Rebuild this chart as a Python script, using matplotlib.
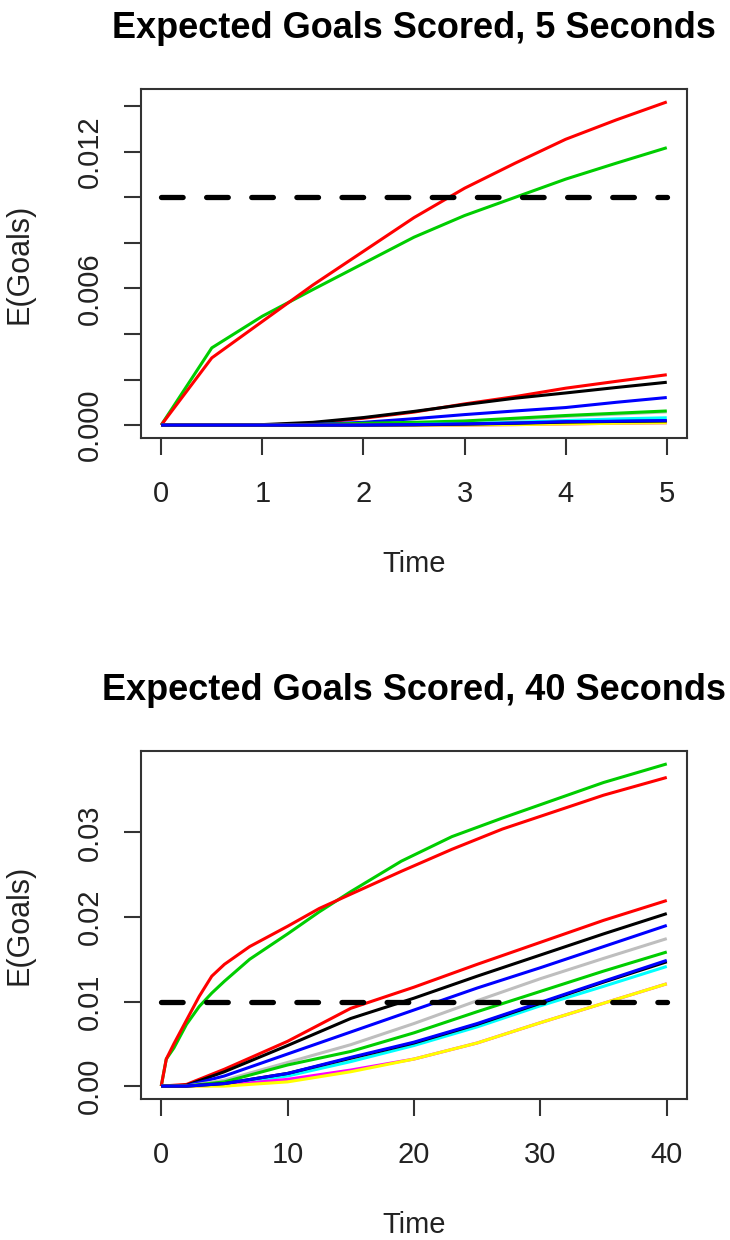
import matplotlib
matplotlib.use("Agg")
import matplotlib.pyplot as plt
import numpy as np

plt.rcParams['font.family'] = ['Liberation Sans', 'DejaVu Sans']

# ---------------- data: 5 second horizon (values x 1e-3 goals) ----------------
t5 = [0, 0.5, 1, 1.5, 2, 2.5, 3, 3.5, 4, 4.5, 5]
green_hi5 = [0, 3.39, 4.78, 5.95, 7.10, 8.25, 9.20, 10.00, 10.80, 11.50, 12.18]
red_hi5 = [0, 2.95, 4.55, 6.15, 7.63, 9.11, 10.40, 11.50, 12.55, 13.40, 14.19]
red_lo5 = [0, 0, 0, 0.08, 0.30, 0.57, 0.93, 1.25, 1.62, 1.92, 2.21]
black_lo5 = [0, 0, 0.02, 0.12, 0.33, 0.60, 0.90, 1.18, 1.41, 1.65, 1.88]
blue_lo5 = [0, 0, 0, 0.03, 0.12, 0.28, 0.46, 0.62, 0.77, 1.00, 1.21]
gray_lo5 = [0, 0, 0, 0, 0.03, 0.08, 0.15, 0.25, 0.38, 0.48, 0.58]
green_lo5 = [0, 0, 0, 0.02, 0.08, 0.12, 0.18, 0.30, 0.42, 0.52, 0.62]
cyan_lo5 = [0, 0, 0, 0, 0.01, 0.03, 0.06, 0.12, 0.20, 0.27, 0.32]
magenta_lo5 = [0, 0, 0, 0, 0, 0, 0, 0.02, 0.05, 0.08, 0.10]
yellow_lo5 = [0, 0, 0, 0, 0, 0, 0, 0.02, 0.05, 0.08, 0.10]
black2_lo5 = [0, 0, 0, 0, 0, 0.01, 0.04, 0.08, 0.13, 0.16, 0.18]
blue2_lo5 = [0, 0, 0, 0, 0, 0.02, 0.05, 0.09, 0.15, 0.17, 0.20]
scale5 = 1e-3

# ---------------- data: 40 second horizon (values x 1e-2 goals) ----------------
t40_hi = [0, 0.4, 1, 2, 3, 4, 5, 7, 10, 12.5, 15, 19, 23, 27, 31, 35, 40]
green_hi40 = [0, 0.32, 0.45, 0.73, 0.94, 1.10, 1.24, 1.50, 1.80, 2.06, 2.30,
              2.66, 2.95, 3.17, 3.38, 3.59, 3.81]
red_hi40 = [0, 0.32, 0.50, 0.78, 1.06, 1.30, 1.44, 1.65, 1.89, 2.10, 2.27,
            2.54, 2.80, 3.04, 3.24, 3.44, 3.65]
t40 = [0, 2, 5, 10, 15, 20, 25, 30, 35, 40]
red_lo40 = [0, 0.02, 0.20, 0.53, 0.92, 1.17, 1.44, 1.70, 1.96, 2.195]
black_lo40 = [0, 0.01, 0.17, 0.48, 0.80, 1.04, 1.30, 1.55, 1.80, 2.04]
blue_lo40 = [0, 0.005, 0.12, 0.38, 0.64, 0.90, 1.16, 1.40, 1.65, 1.90]
gray_lo40 = [0, 0, 0.07, 0.28, 0.49, 0.74, 1.01, 1.27, 1.51, 1.744]
green_lo40 = [0, 0, 0.05, 0.25, 0.41, 0.63, 0.88, 1.12, 1.36, 1.586]
cyan_lo40 = [0, 0, 0.02, 0.12, 0.29, 0.48, 0.70, 0.95, 1.18, 1.415]
magenta_lo40 = [0, 0, 0.01, 0.08, 0.19, 0.32, 0.51, 0.75, 0.98, 1.21]
yellow_lo40 = [0, 0, 0, 0.05, 0.17, 0.32, 0.51, 0.75, 0.98, 1.21]
black2_lo40 = [0, 0, 0.03, 0.15, 0.33, 0.51, 0.73, 0.98, 1.23, 1.47]
blue2_lo40 = [0, 0, 0.03, 0.15, 0.34, 0.52, 0.74, 0.99, 1.24, 1.487]
scale40 = 1e-2

threshold = 0.01

titles = ["Expected Goals Scored, 5 Seconds", "Expected Goals Scored, 40 Seconds"]
xlabel = "Time"
ylabel = "E(Goals)"
xticks5 = [0, 1, 2, 3, 4, 5]
yticks5 = [0.000, 0.002, 0.004, 0.006, 0.008, 0.010, 0.012, 0.014]
ylabels5 = ["0.000", "", "", "0.006", "", "", "0.012", ""]
xticks40 = [0, 10, 20, 30, 40]
yticks40 = [0.00, 0.01, 0.02, 0.03]
ylabels40 = ["0.00", "0.01", "0.02", "0.03"]

C = {"black": "#000000", "red": "#FF0000", "green": "#00CD00", "blue": "#0000FF",
     "cyan": "#00FFFF", "magenta": "#FF00FF", "yellow": "#FFFF00", "gray": "#BEBEBE"}

W, H = 730, 1240
fig = plt.figure(figsize=(W / 100, H / 100), dpi=100)
ax1 = fig.add_axes([141 / W, 1 - 438 / H, 546 / W, 349 / H])
ax2 = fig.add_axes([141 / W, 1 - 1099 / H, 546 / W, 348 / H])

LW = 2.2
DLW = 3.8


def draw(ax, series, scale, xr):
    allv = []
    for x, y, col in series:
        yy = np.asarray(y) * scale
        allv.extend(yy)
        ax.plot(x, yy, color=C[col], lw=LW, solid_capstyle='butt',
                solid_joinstyle='round')
    ax.plot([xr[0], xr[1]], [threshold, threshold], color='black', lw=DLW,
            dashes=(4.1, 4.45), dash_capstyle='round', zorder=5)
    ymax = max(allv)
    ymin = 0.0
    r = ymax - ymin
    ax.set_ylim(ymin - 0.04 * r, ymax + 0.04 * r)
    xrng = xr[1] - xr[0]
    ax.set_xlim(xr[0] - 0.04 * xrng, xr[1] + 0.04 * xrng)


series5 = [
    (t5, green_hi5, "green"), (t5, red_hi5, "red"),
    (t5, red_lo5, "red"), (t5, black_lo5, "black"), (t5, blue_lo5, "blue"),
    (t5, gray_lo5, "gray"), (t5, green_lo5, "green"), (t5, cyan_lo5, "cyan"),
    (t5, magenta_lo5, "magenta"), (t5, yellow_lo5, "yellow"),
    (t5, black2_lo5, "black"), (t5, blue2_lo5, "blue"),
]
series40 = [
    (t40_hi, green_hi40, "green"), (t40_hi, red_hi40, "red"),
    (t40, red_lo40, "red"), (t40, black_lo40, "black"), (t40, blue_lo40, "blue"),
    (t40, gray_lo40, "gray"), (t40, green_lo40, "green"), (t40, cyan_lo40, "cyan"),
    (t40, magenta_lo40, "magenta"), (t40, yellow_lo40, "yellow"),
    (t40, black2_lo40, "black"), (t40, blue2_lo40, "blue"),
]

draw(ax1, series5, scale5, (t5[0], t5[-1]))
draw(ax2, series40, scale40, (t40[0], t40[-1]))

for ax, title, xt, yt, yl in [(ax1, titles[0], xticks5, yticks5, ylabels5),
                              (ax2, titles[1], xticks40, yticks40, ylabels40)]:
    ax.set_xticks(xt)
    ax.set_xticklabels([str(v) for v in xt])
    ax.set_yticks(yt)
    ax.set_yticklabels(yl)
    for sp in ax.spines.values():
        sp.set_linewidth(1.5)
        sp.set_color('#333333')
    ax.tick_params(axis='both', direction='out', length=12.5, width=1.5,
                   color='#333333', labelsize=21, labelcolor='#222222')
    ax.tick_params(axis='x', pad=18)
    ax.tick_params(axis='y', pad=14, labelrotation=90)
    for lab in ax.get_yticklabels():
        lab.set_va('center')
        lab.set_ha('right')
    ax.set_xlabel(xlabel, fontsize=21, labelpad=30, color='#222222')
    ax.set_ylabel(ylabel, fontsize=22, labelpad=30, color='#222222')
    ax.set_title(title, fontsize=26, fontweight='bold', pad=37)

fig.savefig("out.png", dpi=100)
